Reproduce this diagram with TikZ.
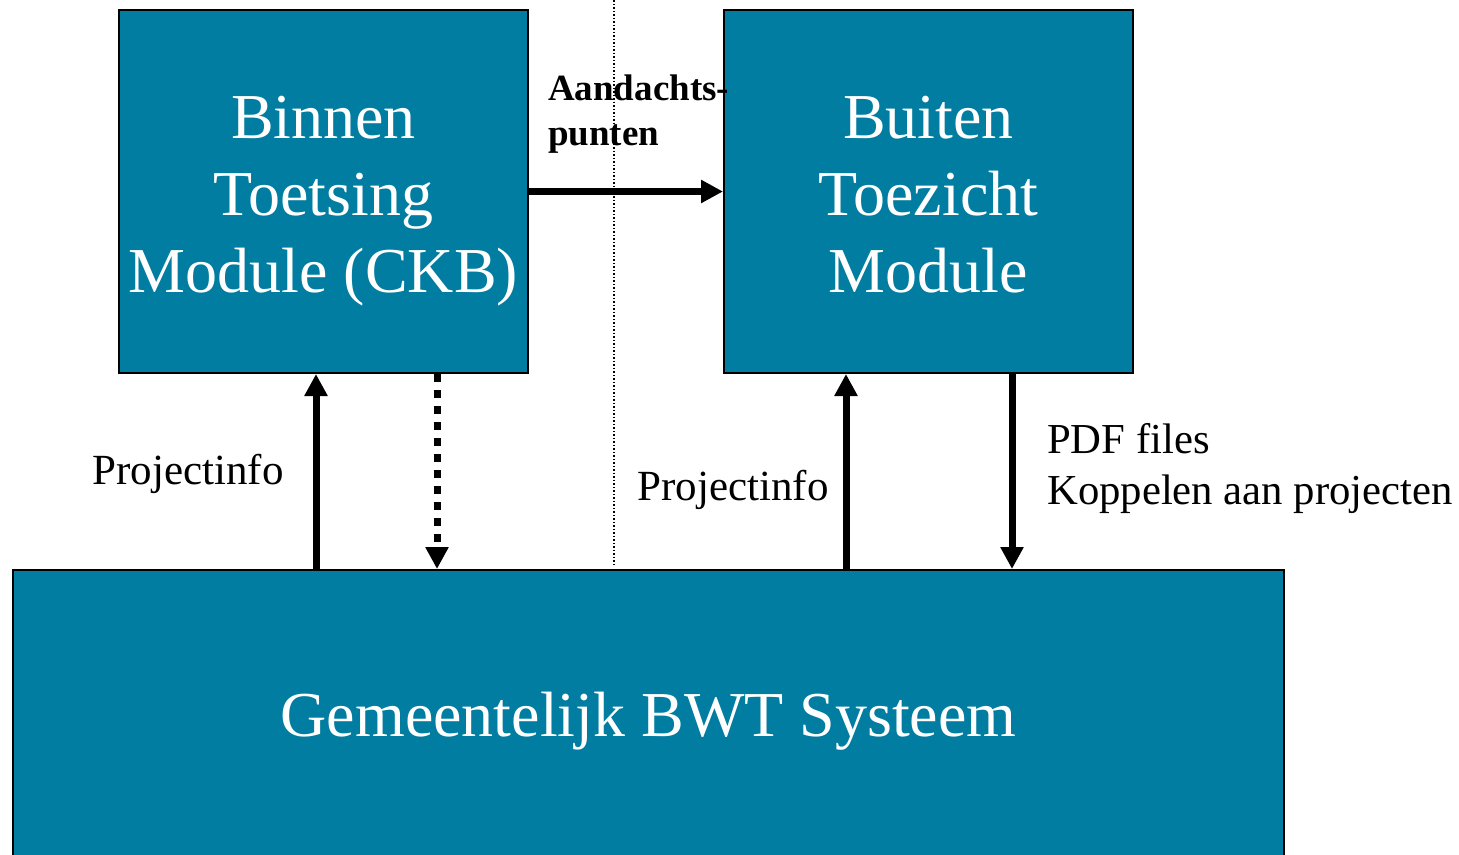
\documentclass[tikz,border=0pt]{standalone}
\usepackage{fontspec}
\setmainfont{Liberation Serif}
\usetikzlibrary{arrows.meta}
\usetikzlibrary{positioning}
\definecolor{bwtblue}{HTML}{007DA0}

\begin{document}
\begin{tikzpicture}[x=1pt,y=-1pt]
        \tikzset{mod_box/.style = {draw=black,line width=2pt,fill=bwtblue,inner sep=0pt}}
        \tikzset{mod_txt/.style = {text=white,align=center,font=\fontsize{64}{77}\selectfont,inner sep=0pt}}
        \tikzset{flow_edge/.style = {-{Triangle[length=22pt,width=22pt]},line width=7pt,color=black}}
        \tikzset{dash_edge/.style = {flow_edge,dash pattern=on 8pt off 8pt}}
        \tikzset{lbl/.style = {font=\fontsize{43}{51}\selectfont,align=left,inner sep=0pt}}
        \useasboundingbox (0,0) rectangle (1459,854);
        \clip (0,0) rectangle (1459,854);

        \draw[dotted,line width=1.5pt] (614,0) -- (614,567);

        \node[mod_box,minimum width=409,minimum height=363] (binnen) at (323.5,191.5) {};
        \node[mod_txt] (binnen_txt) at ([yshift=-9.5]binnen.center) {Binnen\\Toetsing\\Module (CKB)};
        \node[mod_box,minimum width=409,minimum height=363] (buiten) at (928.5,191.5) {};
        \node[mod_txt] (buiten_txt) at ([yshift=-3]buiten.center) {Buiten\\Toezicht\\Module};
        \node[mod_box,minimum width=1271,minimum height=292] (bwt) at (648.5,716) {};
        \node[mod_txt] (bwt_txt) at ([yshift=-5]bwt.center) {Gemeentelijk BWT Systeem};

        % binnen -> buiten
        \draw[flow_edge] (binnen.east) -- (buiten.west);
        \node[lbl,font=\bfseries\fontsize{37}{45}\selectfont,anchor=west] (aandacht) at (548,114) {Aandachts-\\punten};

        % binnen <-> bwt
        \coordinate (b1) at ([xshift=-7.5]binnen.south);
        \coordinate (b2) at ([xshift=113.5]binnen.south);
        \draw[flow_edge] (bwt.north -| b1) -- (b1);
        \draw[dash_edge] (b2) -- (bwt.north -| b2);
        \node[lbl] (pinfo1) at (188,474) {Projectinfo};

        % buiten <-> bwt
        \coordinate (t1) at ([xshift=-82.5]buiten.south);
        \coordinate (t2) at ([xshift=83.5]buiten.south);
        \draw[flow_edge] (bwt.north -| t1) -- (t1);
        \draw[flow_edge] (t2) -- (bwt.north -| t2);
        \node[lbl] (pinfo2) at (733,490) {Projectinfo};
        \node[lbl,anchor=west,font=\fontsize{42.7}{51}\selectfont] (pdf) at (1047,469) {PDF files\\Koppelen aan projecten};
    \end{tikzpicture}
\end{document}
